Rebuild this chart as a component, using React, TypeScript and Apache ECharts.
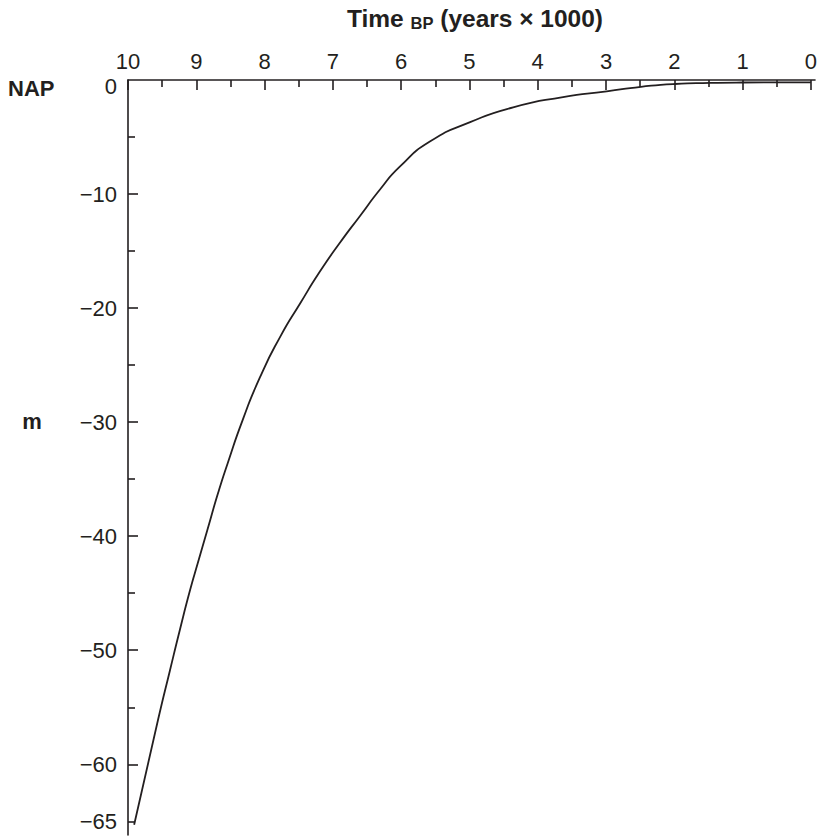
import React, { useEffect, useRef } from "react";
import * as echarts from "echarts";

// Time BP (years x 1000) and relative sea level (m below NAP), from recent to old
const years = [0, 1.0, 1.48, 1.99, 2.49, 2.99, 3.63, 4.36, 4.99, 5.58, 6.02, 6.31, 6.6, 6.9, 7.19, 7.48, 7.77, 8.07, 8.32, 8.54, 8.68, 8.84, 8.98, 9.09, 9.24, 9.385, 9.56, 9.91];
const depths = [-0.2, -0.22, -0.26, -0.35, -0.6, -1.0, -1.5, -2.4, -3.7, -5.4, -7.6, -9.6, -11.9, -14.3, -16.8, -19.6, -22.5, -26.1, -29.8, -33.6, -36.2, -39.5, -42.4, -44.7, -48.2, -51.75, -56.1, -65.3];

const xMajorTicks = [0, 1, 2, 3, 4, 5, 6, 7, 8, 9, 10];
const xMinorTicks = [0.5, 1.5, 2.5, 3.5, 4.5, 5.5, 6.5, 7.5, 8.5, 9.5];
const yMajorTicks = [-10, -20, -30, -40, -50, -60];
const yMinorTicks = [-5, -15, -25, -35, -45, -55, -65];
const yLabelValues = [-10, -20, -30, -40, -50, -60, -65];

const INK = "#231f20";
const FONT = "'Liberation Sans', Arial, Helvetica, sans-serif";

export default function App() {
  const ref = useRef<HTMLDivElement>(null);
  useEffect(() => {
    const chart = echarts.init(ref.current!, null, { renderer: "svg" });
    const xMin = -0.06;
    const xMax = 10;
    const yMin = -66.2;
    const yMax = 0;
    const data = years.map((y, i) => [y, depths[i]]);
    chart.setOption({
      animation: false,
      backgroundColor: "#ffffff",
      grid: { left: 128, right: 4, top: 80, bottom: 2, containLabel: false, outerBoundsMode: "none" },
      xAxis: [
        {
          type: "value",
          position: "top",
          inverse: true,
          min: xMin,
          max: xMax,
          axisLine: { show: true, onZero: false, lineStyle: { color: INK, width: 1.6 } },
          axisTick: { show: true, inside: true, length: 10, customValues: xMajorTicks, lineStyle: { color: INK, width: 1.6 } },
          axisLabel: { show: true, customValues: xMajorTicks, margin: 8, fontSize: 22, color: INK, fontFamily: FONT, hideOverlap: false },
          splitLine: { show: false },
        },
        {
          type: "value",
          position: "top",
          inverse: true,
          min: xMin,
          max: xMax,
          axisLine: { show: false, onZero: false },
          axisTick: { show: true, inside: true, length: 7, customValues: xMinorTicks, lineStyle: { color: INK, width: 1.6 } },
          axisLabel: { show: false },
          splitLine: { show: false },
        },
      ],
      yAxis: [
        {
          type: "value",
          position: "left",
          min: yMin,
          max: yMax,
          axisLine: { show: true, onZero: false, lineStyle: { color: INK, width: 1.6 } },
          axisTick: { show: true, inside: true, length: 10, customValues: yMajorTicks, lineStyle: { color: INK, width: 1.6 } },
          axisLabel: {
            show: true,
            customValues: yLabelValues,
            margin: 11,
            fontSize: 22,
            color: INK,
            fontFamily: FONT,
            formatter: (v: number) => (v < 0 ? "\u2212" + Math.abs(v) : String(v)),
          },
          splitLine: { show: false },
        },
        {
          type: "value",
          position: "left",
          min: yMin,
          max: yMax,
          axisLine: { show: false, onZero: false },
          axisTick: { show: true, inside: true, length: 7, customValues: yMinorTicks, lineStyle: { color: INK, width: 1.6 } },
          axisLabel: { show: false },
          splitLine: { show: false },
        },
      ],
      series: [
        {
          type: "line",
          xAxisIndex: 0,
          yAxisIndex: 0,
          data,
          showSymbol: false,
          smooth: 0.6,
          lineStyle: { color: INK, width: 1.8 },
        },
      ],
      graphic: [
        {
          type: "text",
          left: 8,
          top: 77,
          style: { text: "NAP", font: `bold 22px ${FONT}`, fill: INK },
        },
        {
          type: "text",
          x: 117,
          y: 86,
          style: { text: "0", font: `22px ${FONT}`, fill: INK, align: "right", verticalAlign: "middle" },
        },
        {
          type: "text",
          x: 32,
          y: 421,
          style: { text: "m", font: `bold 22px ${FONT}`, fill: INK, align: "center", verticalAlign: "middle" },
        },
        {
          type: "text",
          x: 475,
          y: 17,
          style: {
            text: "{a|Time }{b|BP}{a| (years \u00d7 1000)}",
            align: "center",
            verticalAlign: "middle",
            rich: {
              a: { font: `bold 24.5px ${FONT}`, fill: INK, color: INK, lineHeight: 28, verticalAlign: "bottom" },
              b: { font: `bold 16.5px ${FONT}`, fill: INK, color: INK, lineHeight: 21, verticalAlign: "bottom" },
            },
          },
        },
      ],
    });
    return () => chart.dispose();
  }, []);
  return (
    <div
      ref={ref}
      style={{ position: "fixed", left: 0, top: 0, width: 819, height: 837, background: "#ffffff" }}
    />
  );
}
